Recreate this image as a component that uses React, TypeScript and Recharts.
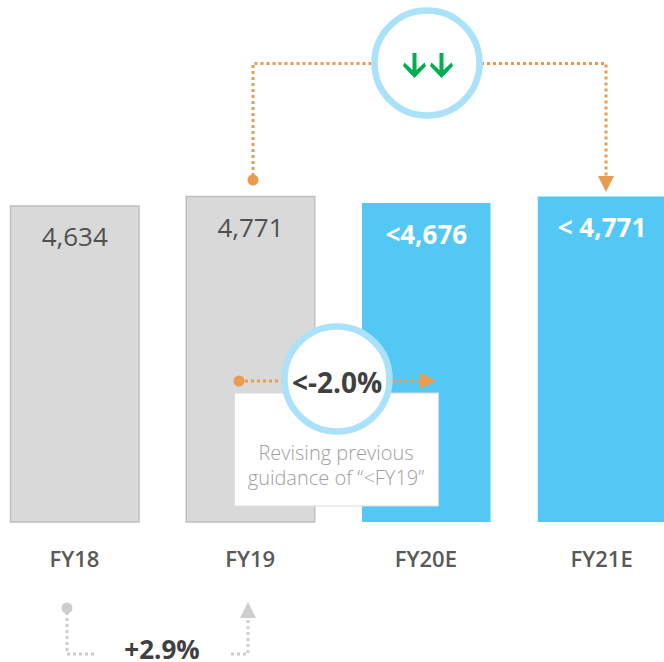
import React from "react";
import { BarChart, Bar, XAxis, YAxis, Cell, LabelList, Surface } from "recharts";

const categories = ["FY18", "FY19", "FY20E", "FY21E"];
const values = [4634, 4771, 4676, 4771];
const valueLabels = ["4,634", "4,771", "<4,676", "< 4,771"];
const fills = ["#d9d9d9", "#d9d9d9", "#53c8f5", "#53c8f5"];
const strokes = ["#bfbfbf", "#bfbfbf", "none", "none"];
const labelColors = ["#505050", "#505050", "#ffffff", "#ffffff"];
const labelWeights = [400, 400, 700, 700];

const growthLabel = "+2.9%";
const guidanceLabel = "<-2.0%";
const noteLines = ["Revising previous", "guidance of “<FY19”"];

const data = categories.map((name, i) => ({ name, value: values[i], label: valueLabels[i] }));

const FONT = "'Open Sans', sans-serif";
const ORANGE = "#e89c50";
const GREY = "#cdcdcd";
const RING = "#abe2fb";

const ValueLabel = (props: any) => {
  const { x, y, width, index, value } = props;
  return (
    <text
      x={x + width / 2}
      y={y + 30.5}
      textAnchor="middle"
      dominantBaseline="central"
      fontFamily={FONT}
      fontSize={26}
      fontWeight={labelWeights[index]}
      fill={labelColors[index]}
    >
      {value}
    </text>
  );
};

const DownArrow = ({ cx }: { cx: number }) => (
  <path
    d={`M${cx - 2} 53 H${cx + 2} V70 L${cx + 10} 62.5 L${cx + 11.5} 66 L${cx} 78 L${cx - 11.5} 66 L${cx - 10} 62.5 L${cx - 2} 70 Z`}
    fill="#00b050"
  />
);

const dotted = { fill: "none", strokeWidth: 3, strokeDasharray: "3 3" };

const Annotations = () => (
  <Surface
    width={664}
    height={662}
    viewBox={{ x: 0, y: 0, width: 664, height: 662 }}
    style={{ position: "absolute", left: 0, top: 0, pointerEvents: "none" }}
  >
    <g fontFamily={FONT}>
      <path d="M253 176 V63.5 H372 M481 63.5 H606 V176" stroke={ORANGE} {...dotted} />
      <circle cx={253} cy={180} r={5.5} fill={ORANGE} />
      <path d="M598 176 H614 L606 192 Z" fill={ORANGE} />
      <circle cx={427} cy={63} r={52.5} fill="#fff" stroke={RING} strokeWidth={6.5} />
      <DownArrow cx={414.5} />
      <DownArrow cx={441.5} />

      <rect x={234.5} y={393} width={204} height={113} fill="#fff" stroke="#dcdcdc" strokeWidth={1} />
      <path d="M245 381 H283 M393 381 H421" stroke={ORANGE} {...dotted} />
      <circle cx={239} cy={381} r={5.5} fill={ORANGE} />
      <path d="M420 373 H421 L436 381 L420 389 Z" fill={ORANGE} />
      <circle cx={337} cy={379} r={52.5} fill="#fff" stroke={RING} strokeWidth={6.5} />
      <text x={337} y={382} textAnchor="middle" dominantBaseline="central" fontSize={28} fontWeight={700} fill="#404040">
        {guidanceLabel}
      </text>
      {noteLines.map((line, i) => (
        <text key={line} x={336} y={452 + i * 25} textAnchor="middle" dominantBaseline="central" fontSize={20} fontWeight={300} fill="#a0a0a0">
          {line}
        </text>
      ))}

      <path d="M67 612 V654 H96" stroke={GREY} {...dotted} />
      <circle cx={67} cy={608} r={5.5} fill={GREY} />
      <path d="M231 654 H248 V618" stroke={GREY} {...dotted} />
      <path d="M248 602 L256 618 H240 Z" fill={GREY} />
      <text x={162} y={649} textAnchor="middle" dominantBaseline="central" fontSize={26} fontWeight={700} fill="#404040">
        {growthLabel}
      </text>
    </g>
  </Surface>
);

export default function App() {
  return (
    <div style={{ position: "absolute", left: 0, top: 0, width: 664, height: 662, overflow: "hidden", background: "#fff" }}>
      <BarChart width={664} height={662} data={data} margin={{ top: 0, right: -25.5, bottom: 0, left: -13.5 }} barCategoryGap={0}>
        <YAxis hide domain={[0, 7654]} />
        <XAxis
          dataKey="name"
          height={140}
          axisLine={false}
          tickLine={false}
          interval={0}
          tickMargin={23}
          tick={{ fontFamily: FONT, fontSize: 22, fontWeight: 600, fill: "#595959" }}
        />
        <Bar dataKey="value" barSize={128.5} isAnimationActive={false} strokeWidth={1.5}>
          {data.map((d, i) => (
            <Cell key={d.name} fill={fills[i]} stroke={strokes[i]} />
          ))}
          <LabelList dataKey="label" content={ValueLabel} />
        </Bar>
      </BarChart>
      <Annotations />
    </div>
  );
}
